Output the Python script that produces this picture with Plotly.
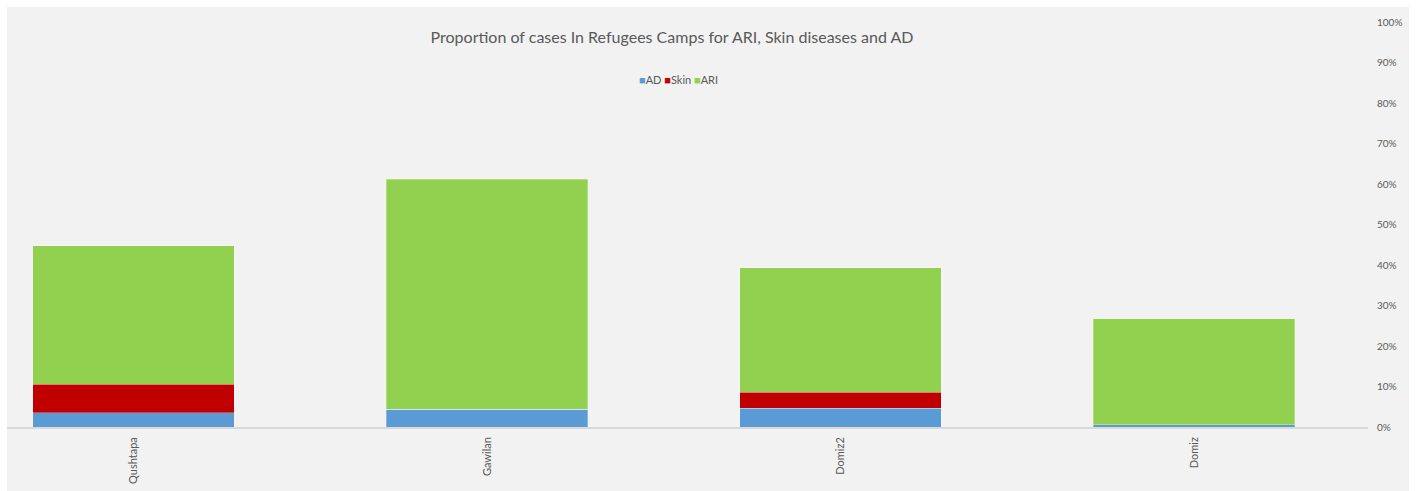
import plotly.graph_objects as go

camps = ["Qushtapa", "Gawilan", "Domiz2", "Domiz"]
ad = [0.035, 0.044, 0.046, 0.005]
skin = [0.071, 0.0, 0.040, 0.0]
ari = [0.341, 0.568, 0.307, 0.262]

series_names = ["AD", "Skin", "ARI"]
series_colors = ["#5b9bd5", "#c00000", "#92d050"]

W, H = 1416, 491
L, R, T, B = 7, 48, 22, 64
pw = W - L - R
ph = H - T - B

def px_x(x):
    return (x - L) / pw

def px_y(y):
    return (H - B - y) / ph

fig = go.Figure()
line = dict(color="rgba(255,255,255,0.35)", width=0.8)
for name, vals, col in zip(series_names, [ad, skin, ari], series_colors):
    fig.add_trace(go.Bar(name=name, x=camps, y=vals,
                         marker=dict(color=col, line=line), showlegend=False))

# compact legend as text (Excel-style small squares)
legend_text = "&nbsp;".join(
    f"<span style='color:{c};font-size:11px'>&#9632;</span>{n}"
    for n, c in zip(series_names, series_colors)
)

fig.update_layout(
    width=W, height=H,
    barmode="stack",
    bargap=0.431,
    margin=dict(l=L, r=R, t=T, b=B, autoexpand=False),
    paper_bgcolor="white",
    plot_bgcolor="#f2f2f2",
    font=dict(family="Lato, Open Sans, sans-serif", color="#595959"),
    title=dict(
        text="Proportion of cases In Refugees Camps for ARI, Skin diseases and AD",
        x=px_x(672), xref="paper", xanchor="center",
        y=1 - 37 / H, yref="container", yanchor="middle",
        font=dict(size=16, color="#595959", family="Lato, Open Sans, sans-serif"),
    ),
    annotations=[
        dict(text=legend_text, xref="paper", yref="paper",
             x=px_x(678), y=px_y(79), xanchor="center", yanchor="middle",
             showarrow=False, font=dict(size=11, color="#595959")),
    ],
    xaxis=dict(
        type="category",
        range=[(7 - 133.5) / 353.5, (1368 - 133.5) / 353.5],
        tickangle=-90,
        tickfont=dict(size=11, color="#595959"),
        showline=True, linecolor="#d9d9d9", linewidth=1.5,
        showgrid=False, ticks="", ticklabelstandoff=4,
    ),
    yaxis=dict(
        side="right",
        range=[0, 1],
        dtick=0.1, tickformat=".0%",
        tickfont=dict(size=10, color="#595959"),
        showgrid=False, zeroline=False, showline=False,
        ticks="", ticklabelstandoff=8,
    ),
    shapes=[
        dict(type="rect", xref="paper", yref="paper",
             x0=px_x(7), x1=px_x(1409), y0=px_y(491), y1=px_y(7),
             fillcolor="#f2f2f2", line=dict(width=0), layer="below"),
    ],
)

fig.write_html(
    "out.html",
    config={"displayModeBar": False},
    post_script="document.body.style.margin='0';document.body.style.overflow='hidden';",
)
